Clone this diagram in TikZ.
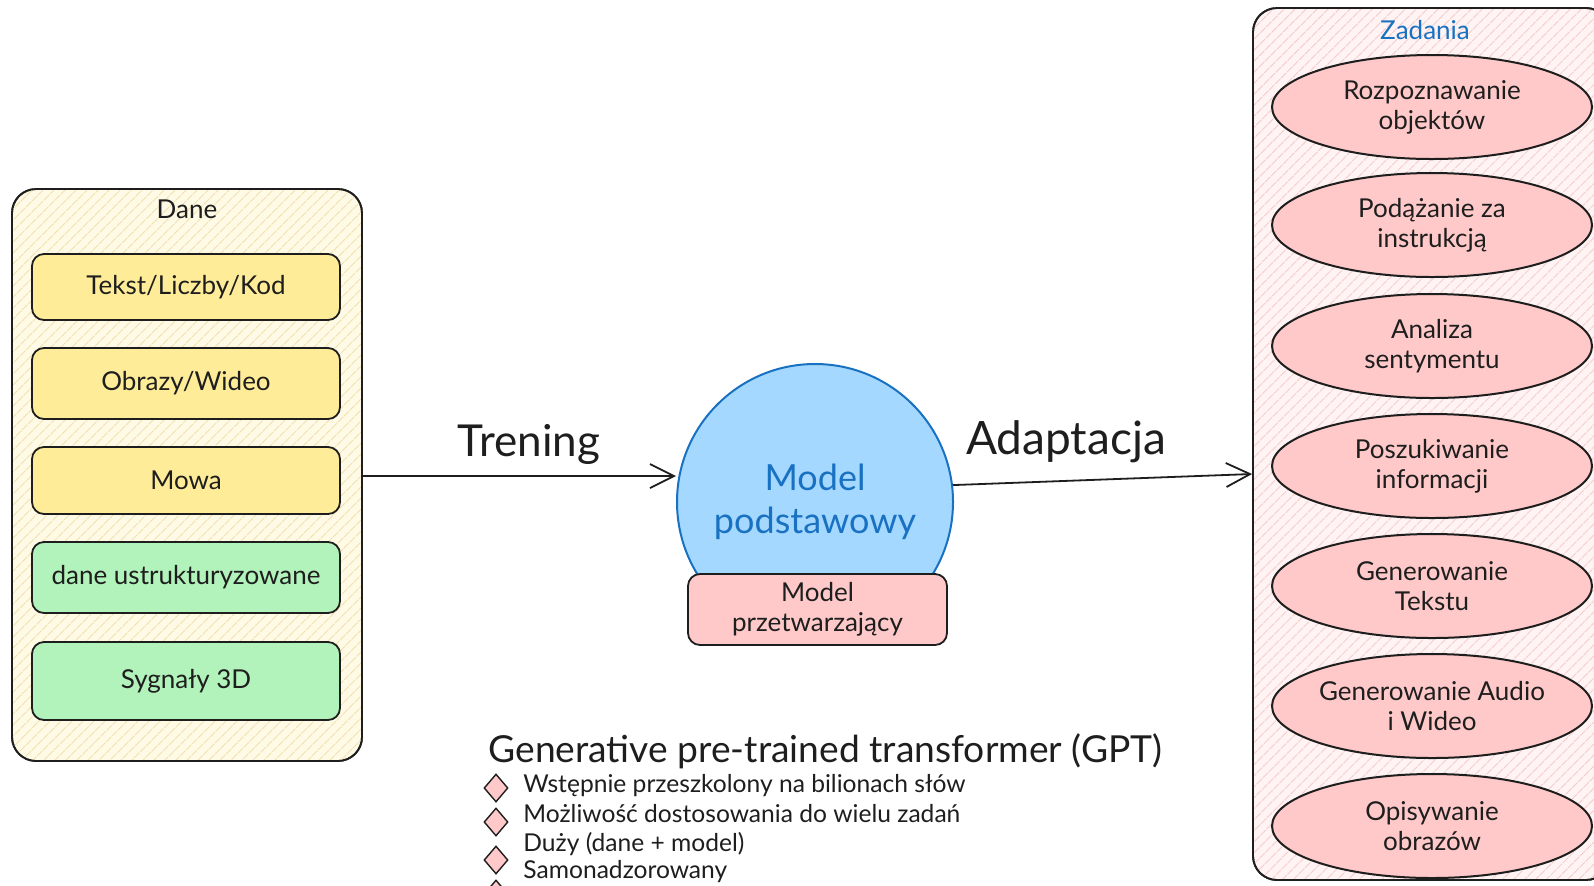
\documentclass[tikz,border=0pt]{standalone}
\usepackage{fontspec}
\setmainfont{Lato}
\usetikzlibrary{arrows.meta,patterns.meta,shapes.geometric}
\definecolor{ink}{HTML}{1E1E1E}
\definecolor{yellowbg}{HTML}{FFFAE6}
\definecolor{yellowhatch}{HTML}{F0E2B0}
\definecolor{pinkbg}{HTML}{FFF3F3}
\definecolor{pinkhatch}{HTML}{F3CACA}
\definecolor{yellowbox}{HTML}{FFEC99}
\definecolor{greenbox}{HTML}{B2F2BB}
\definecolor{pinkbox}{HTML}{FFC9C9}
\definecolor{bluefill}{HTML}{A5D8FF}
\definecolor{bluetext}{HTML}{1971C2}
\tikzset{
  panelbox/.style={draw=ink, line width=0.9pt, rounded corners=12pt, inner sep=0pt},
  itembox/.style={draw=ink, line width=0.9pt, rounded corners=6pt, inner sep=0pt,
    minimum width=154pt, font=\fontsize{13}{15}\selectfont, text=ink},
  taskell/.style={ellipse, draw=ink, line width=1pt, fill=pinkbox, inner sep=0pt,
    minimum width=160pt, minimum height=52pt, align=center,
    font=\fontsize{13}{15}\selectfont, text=ink},
  arr/.style={draw=ink, line width=0.9pt, -{Straight Barb[length=12pt,width=12pt,line width=0.9pt]}},
  biglabel/.style={font=\fontsize{22}{26}\selectfont, text=ink},
  bulletdia/.style={diamond, draw=ink, line width=0.7pt, fill=pinkbox, inner sep=0pt,
    minimum width=12pt, minimum height=14pt},
  bullettext/.style={anchor=west, font=\fontsize{12.3}{14}\selectfont, text=ink, inner sep=0pt}
}
\begin{document}
\begin{tikzpicture}[x=0.5pt,y=-0.5pt]
\useasboundingbox (0,0) rectangle (1594,885);
\fill[white] (0,0) rectangle (1594,885);

% Dane panel
\node[panelbox, fill=yellowbg, minimum width=175pt, minimum height=286pt] (dane) at (187,475) {};
\fill[pattern={Lines[angle=45,distance=4pt,line width=0.5pt]}, pattern color=yellowhatch, rounded corners=12pt]
  (dane.south west) rectangle (dane.north east);
\node[panelbox, minimum width=175pt, minimum height=286pt] at (dane) {};
\node[font=\fontsize{13}{15}\selectfont, text=ink] (danet) at (187,209) {Dane};

\node[itembox, fill=yellowbox, minimum height=33pt]   (b1) at (186,287)   {Tekst/Liczby/Kod};
\node[itembox, fill=yellowbox, minimum height=35.5pt] (b2) at (186,383.5) {Obrazy/Wideo};
\node[itembox, fill=yellowbox, minimum height=33.5pt] (b3) at (186,480.5) {Mowa};
\node[itembox, fill=greenbox,  minimum height=35.5pt] (b4) at (186,577.5) {dane ustrukturyzowane};
\node[itembox, fill=greenbox,  minimum height=39pt]   (b5) at (186,681)   {Sygnały 3D};

% Model
\node[circle, draw=bluetext, line width=1pt, fill=bluefill, minimum size=138pt, inner sep=0pt,
  align=center, text=bluetext, font=\fontsize{18}{21.5}\selectfont] (base) at (815,502) {Model\\podstawowy};
\node[itembox, fill=pinkbox, minimum width=129.5pt, minimum height=35.5pt, align=center]
  (trans) at (817.5,609.5) {Model\\przetwarzający};

% Zadania panel
\node[panelbox, fill=pinkbg, minimum width=178.5pt, minimum height=436pt] (zad) at (1431.5,444) {};
\fill[pattern={Lines[angle=45,distance=4pt,line width=0.5pt]}, pattern color=pinkhatch, rounded corners=12pt]
  (zad.south west) rectangle (zad.north east);
\node[panelbox, minimum width=178.5pt, minimum height=436pt] at (zad) {};
\node[font=\fontsize{13}{15}\selectfont, text=bluetext] (zadt) at (1425,30) {Zadania};

\node[taskell] (t1) at (1432,107) {Rozpoznawanie\\objektów};
\node[taskell] (t2) at (1432,225) {Podążanie za\\instrukcją};
\node[taskell] (t3) at (1432,346) {Analiza\\sentymentu};
\node[taskell] (t4) at (1432,466) {Poszukiwanie\\informacji};
\node[taskell] (t5) at (1432,586) {Generowanie\\Tekstu};
\node[taskell] (t6) at (1432,706) {Generowanie Audio\\i Wideo};
\node[taskell] (t7) at (1432,826) {Opisywanie\\obrazów};

% Arrows
\path (dane.east) ++(0,1) coordinate (trout);
\draw[arr] (trout) -- (trout -| base.west);
\node[biglabel] (trl) at (529,444) {Trening};
\path (zad.west) ++(0,30) coordinate (zin);
\draw[arr] (base.7) -- (zin);
\node[biglabel, font=\fontsize{23}{27}\selectfont] (adl) at (1066,442) {Adaptacja};

% GPT text
\node[anchor=west, inner sep=0pt, font=\fontsize{18.6}{21}\selectfont, text=ink] (gpt) at (488,751)
  {Generative pre-trained transformer (GPT)};
\node[bulletdia] (d1) at (496,788) {};
\node[bulletdia] (d2) at (496,822) {};
\node[bulletdia] (d3) at (496,860) {};
\node[bulletdia] (d4) at (496,894) {};
\node[bullettext] (l1) at (523,786) {Wstępnie przeszkolony na bilionach słów};
\node[bullettext] (l2) at (523,814) {Możliwość dostosowania do wielu zadań};
\node[bullettext] (l3) at (523,844) {Duży (dane + model)};
\node[bullettext] (l4) at (523,872) {Samonadzorowany};
\end{tikzpicture}
\end{document}
